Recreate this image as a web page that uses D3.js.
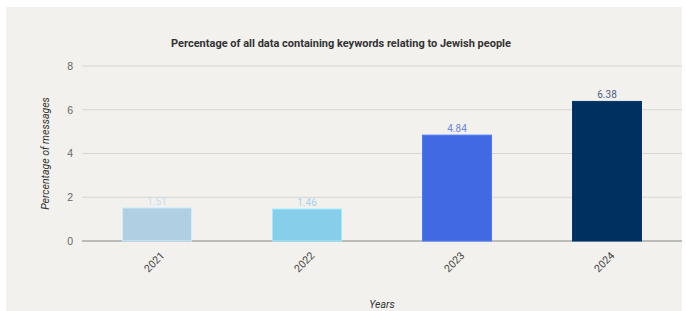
<!DOCTYPE html>
<html>
<head>
<meta charset="utf-8">
<script src="https://cdn.jsdelivr.net/npm/d3@7"></script>
<style>
  html, body { margin: 0; padding: 0; background: #fff; }
  svg { display: block; font-family: Roboto, "Liberation Sans", sans-serif; }
</style>
</head>
<body>
<svg id="chart" width="686" height="311"></svg>
<script>
// chart data
const years = ['2021', '2022', '2023', '2024'];
const percentages = [1.51, 1.46, 4.84, 6.38];
const barColors = ['#b0cfe3', '#87ceeb', '#4169e1', '#003060'];
const labelColors = ['#c9dceb', '#a8d2ea', '#6d86e2', '#4c5e7e'];
const yTicks = [0, 2, 4, 6, 8];

const svg = d3.select('#chart');
const W = 686, H = 311;

// panel background
svg.append('rect')
  .attr('x', 6).attr('y', 7)
  .attr('width', 676).attr('height', H - 7)
  .attr('fill', '#f2f1ee');

const margin = { left: 82, right: 4, top: 66, bottom: 70 };
const x = d3.scaleBand()
  .domain(years)
  .range([margin.left, W - margin.right])
  .paddingInner(0.54)
  .paddingOuter(0.27);

const y = d3.scaleLinear()
  .domain([0, 8])
  .range([H - margin.bottom, margin.top]);

// gridlines
svg.append('g')
  .selectAll('line')
  .data(yTicks)
  .join('line')
  .attr('x1', margin.left)
  .attr('x2', W - margin.right)
  .attr('y1', d => y(d))
  .attr('y2', d => y(d))
  .attr('stroke', d => d === 0 ? '#aaaaaa' : '#d6d5d2')
  .attr('stroke-width', d => d === 0 ? 1.5 : 1.2);

// y axis ticks
const yAxis = svg.append('g')
  .attr('transform', `translate(${margin.left - 5},0)`)
  .call(d3.axisLeft(y).tickValues(yTicks).tickSize(0).tickPadding(4));
yAxis.select('.domain').remove();
yAxis.selectAll('text')
  .attr('fill', '#666')
  .attr('font-size', 10.5);

// bars
svg.append('g')
  .selectAll('rect')
  .data(years)
  .join('rect')
  .attr('x', d => x(d))
  .attr('width', x.bandwidth())
  .attr('y', (d, i) => y(percentages[i]))
  .attr('height', (d, i) => y(0) - y(percentages[i]))
  .attr('fill', (d, i) => barColors[i])
  .attr('stroke', (d, i) => d3.color(barColors[i]).brighter(0.4))
  .attr('stroke-width', 1);

// value labels
svg.append('g')
  .selectAll('text')
  .data(years)
  .join('text')
  .attr('x', d => x(d) + x.bandwidth() / 2)
  .attr('y', (d, i) => y(percentages[i]) - 3)
  .attr('text-anchor', 'middle')
  .attr('font-size', 10)
  .attr('fill', (d, i) => labelColors[i])
  .text((d, i) => percentages[i].toFixed(2));

// x tick labels, rotated
svg.append('g')
  .selectAll('text')
  .data(years)
  .join('text')
  .attr('transform', d => `translate(${x(d) + x.bandwidth() / 2 + 3},${y(0) + 10}) rotate(-45)`)
  .attr('text-anchor', 'end')
  .attr('dy', '0.7em')
  .attr('font-size', 10.5)
  .attr('fill', '#444')
  .text(d => d);

// title
svg.append('text')
  .attr('x', 341)
  .attr('y', 47)
  .attr('text-anchor', 'middle')
  .attr('font-size', 11)
  .attr('font-weight', 'bold')
  .attr('fill', '#333')
  .text('Percentage of all data containing keywords relating to Jewish people');

// axis titles
svg.append('text')
  .attr('transform', `translate(49,${(y(0) + y(8)) / 2}) rotate(-90)`)
  .attr('text-anchor', 'middle')
  .attr('font-size', 10.5)
  .attr('font-style', 'italic')
  .attr('fill', '#333')
  .text('Percentage of messages');

svg.append('text')
  .attr('x', (margin.left + W - margin.right) / 2)
  .attr('y', 308)
  .attr('text-anchor', 'middle')
  .attr('font-size', 10.5)
  .attr('font-style', 'italic')
  .attr('fill', '#333')
  .text('Years');
</script>
</body>
</html>
